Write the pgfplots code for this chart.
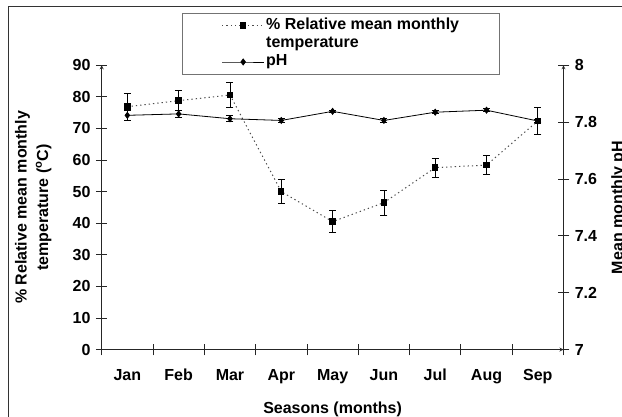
\documentclass[border=0pt]{standalone}
\usepackage{fontspec}
\setmainfont{Liberation Sans}
\usepackage{pgfplots}
\pgfplotsset{compat=1.18}

\pgfplotsset{
  common/.style={
    scale only axis, width=461.8pt, height=284.2pt,
    at={(101.7pt,66.5pt)}, anchor=south west,
    xmin=-0.5, xmax=8.5,
    tick align=center, major tick length=11.5pt,
    axis line style={-, black!85, line width=0.8pt},
    tick style={black!85, line width=0.8pt},
    /pgf/number format/assume math mode=true,
  },
}

\begin{document}
\fontsize{16}{19}\selectfont\bfseries
\begin{tikzpicture}[x=1pt,y=1pt]
  \path[use as bounding box] (0,0) rectangle (622,416);
  \clip (0,0) rectangle (622,416);
  \draw[line width=1.6pt, black!80] (8.3,-30) rectangle (700,409.5);

  % temperature, left axis
  \begin{axis}[
      common,
      axis x line=bottom, axis y line=left,
      ymin=0, ymax=90, ytick={0,10,...,90},
      xtick={-0.5,0.5,...,8.5}, xticklabels={},
      extra x ticks={0,1,2,3,4,5,6,7,8},
      extra x tick labels={Jan,Feb,Mar,Apr,May,Jun,Jul,Aug,Sep},
      extra x tick style={major tick length=0pt,
        xticklabel style={anchor=base, yshift=-31.2pt}},
      xlabel={Seasons (months)},
      xlabel style={at={(axis description cs:0.5,-0.2097)}, anchor=center},
      ylabel={\% Relative mean monthly\\temperature (\textsuperscript{o}C)},
      ylabel style={at={(axis description cs:-0.1482,0.5)}, anchor=center,
        align=center, font=\fontsize{16}{21.5}\selectfont\bfseries},
    ]
    \addplot[black!70, dash pattern=on 1.3pt off 3pt, line width=1pt,
      mark=square*, mark size=2.7pt, mark options={solid, black},
      error bars/.cd, y dir=both, y explicit,
      error bar style={solid, black, line width=0.8pt},
      error mark options={rotate=90, mark size=3.5pt, solid, black, line width=0.8pt}]
    coordinates {
        (0,76.9) +- (0,4.2)
        (1,78.8) +- (0,3.2)
        (2,80.6) +- (0,4.0)
        (3,50.0) +- (0,3.8)
        (4,40.5) +- (0,3.5)
        (5,46.5) +- (0,3.9)
        (6,57.6) +- (0,3.0)
        (7,58.4) +- (0,3.0)
        (8,72.4) +- (0,4.2)
      };
  \end{axis}

  % pH, right axis
  \begin{axis}[
      common,
      axis x line=none, axis y line=right,
      ymin=7, ymax=8, ytick={7,7.2,7.4,7.6,7.8,8},
      ylabel={Mean monthly pH},
      ylabel style={at={(axis description cs:1.1198,0.5)}, anchor=center, rotate=0},
      legend style={at={(axis description cs:0.1745,1.1851)}, anchor=north west,
        draw=black!55, line width=0.8pt, fill=white,
        inner xsep=39pt, inner ysep=4.8pt,
        row sep=3.3pt, column sep=0pt,
        nodes={inner ysep=0pt, inner xsep=1.5pt, text height=11.5pt, text depth=3.5pt}},
      legend cell align=left,
      legend image code/.code={
        \draw[mark repeat=2, mark phase=2, #1]
        plot coordinates {(0pt,0pt) (21pt,0pt) (42pt,0pt)};},
    ]
    \addlegendimage{black!70, dash pattern=on 1.3pt off 3pt, line width=1pt,
      mark=square*, mark size=2.7pt, mark options={solid, black}}
    \addlegendentry{\% Relative mean monthly}
    \addlegendimage{empty legend}
    \addlegendentry{temperature}
    \addplot[black, line width=0.8pt, mark=diamond*, mark size=3pt,
      error bars/.cd, y dir=both, y explicit,
      error bar style={line width=0.8pt},
      error mark options={rotate=90, mark size=3.5pt, line width=0.8pt}]
    coordinates {
        (0,7.824) +- (0,0.018)
        (1,7.829) +- (0,0.011)
        (2,7.812) +- (0,0.010)
        (3,7.806) +- (0,0.006)
        (4,7.838) +- (0,0.004)
        (5,7.806) +- (0,0.007)
        (6,7.835) +- (0,0.005)
        (7,7.842) +- (0,0.005)
        (8,7.804) +- (0,0.006)
      };
    \addlegendentry{pH}
  \end{axis}
\end{tikzpicture}
\end{document}
